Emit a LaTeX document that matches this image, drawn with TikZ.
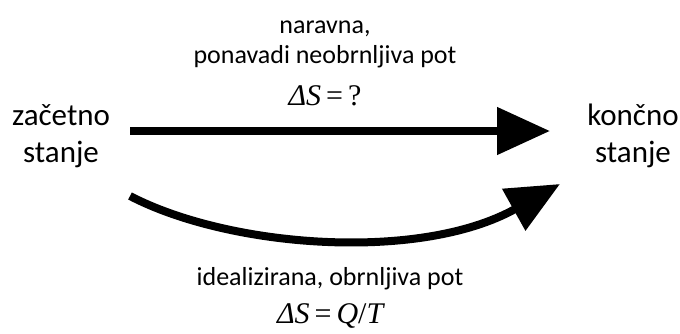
\documentclass[tikz,border=0pt]{standalone}
\usepackage{fontspec}
\setmainfont{Carlito}
\newfontfamily\mfont{Liberation Serif}
\usetikzlibrary{arrows.meta}
\begin{document}
\begin{tikzpicture}[x=1pt,y=-1pt,
  side/.style={inner sep=0pt, align=center, font=\fontsize{31}{37}\selectfont},
  lab/.style={inner sep=0pt, align=center, font=\fontsize{26}{30}\selectfont},
  eq/.style={inner sep=0pt, font=\fontsize{30}{32}\selectfont\mfont},
  arr/.style={line width=8pt, -{Triangle[length=53pt,width=46pt]}}]
\useasboundingbox (0,0) rectangle (680,333);
\node[side, anchor=base] (a) at (61,162) {začetno\\stanje};
\node[side, anchor=base] (b) at (633,162) {končno\\stanje};
\node[lab, anchor=base] (top) at (325,63) {naravna,\\ponavadi neobrnljiva pot};
\node[eq, anchor=base] (eq1) at (325,105) {\textit{ΔS}\,=\,?};
\node[lab, anchor=base] (bot) at (330,285) {idealizirana, obrnljiva pot};
\node[eq, anchor=base] (eq2) at (331,323) {\textit{ΔS}\,=\,\textit{Q}/\textit{T}};
\draw[arr] ([shift={(69,-31)}]a.base) -- ([shift={(-83,-31)}]b.base);
\draw[arr] ([shift={(69,34)}]a.base) .. controls (230,248) and (420,262) .. ([shift={(-73,22)}]b.base);
\end{tikzpicture}
\end{document}
